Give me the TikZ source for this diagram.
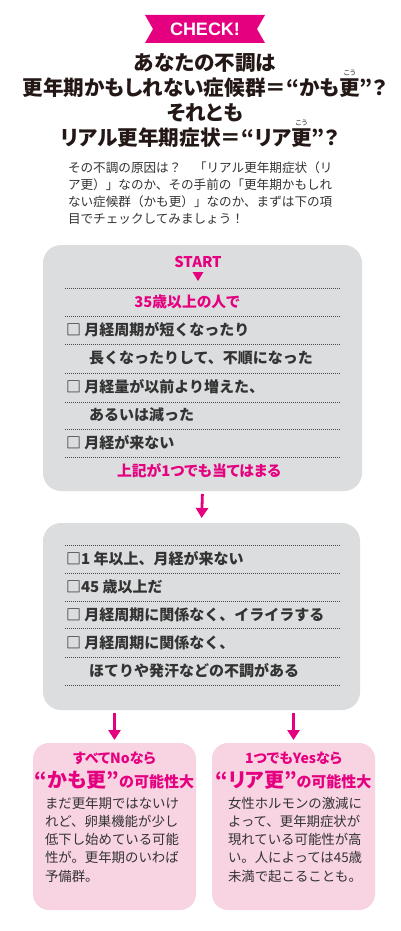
\documentclass[tikz,border=0pt]{standalone}
\usepackage{fontspec}
\usetikzlibrary{arrows.meta}
\newfontfamily\jp[RawFeature=+palt]{Noto Sans CJK JP}
\newfontfamily\jpf{Noto Sans CJK JP}
\newfontfamily\checkfont{Liberation Sans}
\definecolor{mag}{HTML}{E4007F}
\definecolor{ink}{HTML}{231815}
\definecolor{body}{HTML}{333333}
\definecolor{boxgray}{HTML}{DCDDDF}
\definecolor{boxpink}{HTML}{F8D3E2}
\definecolor{dotc}{HTML}{4A4A4A}
\newcommand\myruby[2]{\leavevmode\setbox0\hbox{#1}\rlap{\raisebox{0.98em}[0pt][0pt]{\hbox to \wd0{\hss\fontsize{7}{7}\selectfont\mdseries #2\hss}}}\box0}
\begin{document}
\begin{tikzpicture}[x=1pt,y=-1pt,
  every node/.style={inner sep=0pt, outer sep=0pt},
  title/.style={font=\jp\bfseries\fontsize{20.6}{21}\selectfont, text=ink},
  intro/.style={anchor=west, font=\jpf\fontsize{12.6}{13}\selectfont, text=body},
  row/.style={anchor=west, font=\jpf\bfseries\fontsize{15}{15}\selectfont, text=body},
  pinktext/.style={font=\jp\bfseries\fontsize{14.8}{15}\selectfont, text=mag},
  dotline/.style={draw=dotc, line width=0.9pt, dash pattern=on 0.9pt off 1.1pt},
  graybox/.style={fill=boxgray, rounded corners=18pt},
  pinkbox/.style={fill=boxpink, rounded corners=16pt},
  arr/.style={draw=mag, line width=2.8pt, -{Triangle[width=12pt,length=10pt]}},
  bodytext/.style={anchor=north west, align=left, font=\jpf\fontsize{13.4}{18.2}\selectfont, text=body},
]
\useasboundingbox (0,0) rectangle (400,931);
\fill[white] (0,0) rectangle (400,931);

% CHECK banner
\fill[mag] (145,15) -- (265,15) -- (257,29) -- (265,43) -- (145,43) -- (153,29) -- cycle;
\node[font=\checkfont\bfseries\fontsize{18}{18}\selectfont, text=white] (check) at (205,29.5) {CHECK!};

% Title
\node[title] (t1) at (205,63) {あなたの不調は};
\node[title] (t2) at (205,88) {更年期かもしれない症候群＝“かも\myruby{更}{こう}”？};
\node[title] (t3) at (205,113) {それとも};
\node[title] (t4) at (200,138) {リアル更年期症状＝“リア\myruby{更}{こう}”？};

% Intro
\node[intro] (i1) at (68,168) {その不調の原因は？　「リアル更年期症状（リ};
\node[intro] (i2) at (68,185) {ア更）」なのか、その手前の「更年期かもしれ};
\node[intro] (i3) at (68,202) {ない症候群（かも更）」なのか、まずは下の項};
\node[intro] (i4) at (68,219) {目でチェックしてみましょう！};

% Box 1
\node[graybox, minimum width=319pt, minimum height=246pt] (box1) at (202.5,368) {};
\node[pinktext] (start) at (198,262) {START};
\fill[mag] (192.5,272) -- (203.5,272) -- (198,281) -- cycle;
\foreach \yy in {288,316,344,373,402,429,457} \draw[dotline] (65,\yy) -- (340,\yy);
\node[pinktext] (age) at (187,302) {35歳以上の人で};
\node[row] (r1) at (66,330) {□ 月経周期が短くなったり};
\node[row] (r2) at (89,358) {長くなったりして、不順になった};
\node[row] (r3) at (66,387) {□ 月経量が以前より増えた、};
\node[row] (r4) at (89,415) {あるいは減った};
\node[row] (r5) at (66,443) {□ 月経が来ない};
\node[pinktext] (any) at (199,471) {上記が1つでも当てはまる};

% Box 2
\node[graybox, minimum width=317pt, minimum height=187pt] (box2) at (201.5,616.5) {};
\foreach \yy in {545,573,601,628,657,685} \draw[dotline] (65,\yy) -- (340,\yy);
\node[row] (s1) at (66,559) {□1 年以上、月経が来ない};
\node[row] (s2) at (66,587) {□45 歳以上だ};
\node[row] (s3) at (66,614.5) {□ 月経周期に関係なく、イライラする};
\node[row] (s4) at (66,643) {□ 月経周期に関係なく、};
\node[row] (s5) at (89,671) {ほてりや発汗などの不調がある};

\draw[arr, shorten <=3pt, shorten >=5pt] (box1.south) -- (box2.north);

% Result boxes
\node[pinkbox, minimum width=163pt, minimum height=167pt] (pbL) at (114.5,826.5) {};
\node[pinkbox, minimum width=163pt, minimum height=167pt] (pbR) at (293.5,826.5) {};

\draw[arr, shorten <=3pt, shorten >=3pt] (box2.south -| pbL.north) -- (pbL.north);
\draw[arr, shorten <=3pt, shorten >=3pt] (box2.south -| pbR.north) -- (pbR.north);

\node[font=\jp\bfseries\fontsize{14}{14}\selectfont, text=mag] (l1) at (114.5,758) {すべてNoなら};
\node[font=\jp\bfseries\fontsize{15}{15}\selectfont, text=mag] (l2) at (114.5,780) {{\fontsize{20}{20}\selectfont “かも更”}の可能性大};
\node[bodytext] (lb) at (45,797) {まだ更年期ではないけ\\れど、卵巣機能が少し\\低下し始めている可能\\性が。更年期のいわば\\予備群。};

\node[font=\jp\bfseries\fontsize{14}{14}\selectfont, text=mag] (rt1) at (293.5,758) {1つでもYesなら};
\node[font=\jp\bfseries\fontsize{15}{15}\selectfont, text=mag] (rt2) at (293.5,780) {{\fontsize{20}{20}\selectfont “リア更”}の可能性大};
\node[bodytext] (rb) at (228,797) {女性ホルモンの激減に\\よって、更年期症状が\\現れている可能性が高\\い。人によっては45歳\\未満で起こることも。};
\end{tikzpicture}
\end{document}
